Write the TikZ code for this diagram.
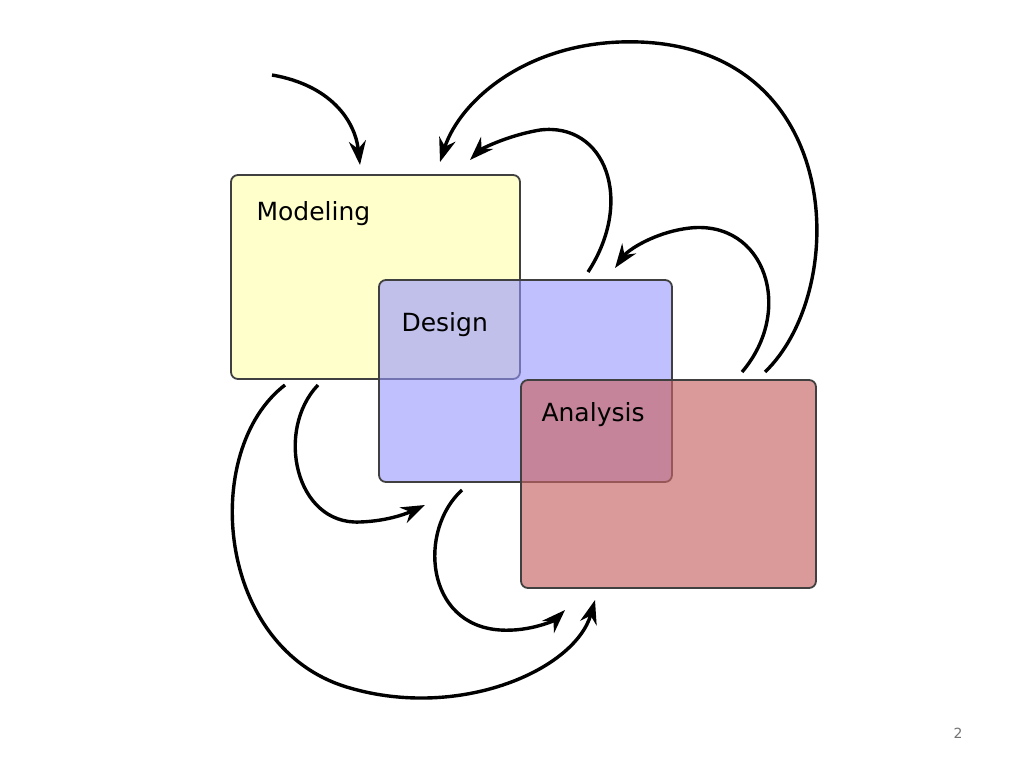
\documentclass[tikz,border=0pt]{standalone}
\usepackage{fontspec}
\setmainfont{DejaVu Sans}
\usetikzlibrary{arrows.meta}
\begin{document}
\begin{tikzpicture}[x=1pt,y=-1pt,
  boxst/.style={draw=black!75,line width=1.8pt,rounded corners=7pt},
  arr/.style={line width=3.4pt,-{Stealth[length=24pt,width=17pt]}},
  lbl/.style={anchor=base west,font=\fontsize{25}{28}\selectfont}]
\useasboundingbox (0,0) rectangle (1024,768);
\fill[white] (0,0) rectangle (1024,768);
\draw[boxst,fill={rgb,255:red,255;green,255;blue,204}] (231,175) rectangle (520,379);
\node[lbl] (m) at (253,220) {Modeling};
\draw[boxst,fill={rgb,255:red,150;green,150;blue,255},fill opacity=0.6] (379,280) rectangle (672,482);
\node[lbl] (d) at (398,331) {Design};
\draw[boxst,fill={rgb,255:red,200;green,100;blue,100},fill opacity=0.65] (521,380) rectangle (816,588);
\node[lbl] (a) at (538,421) {Analysis};
\draw[arr] (272,75) .. controls (330,85) and (355,120) .. (360,165);
\draw[arr] (765,372) .. controls (850,290) and (845,50) .. (640,42) .. controls (530,38) and (460,100) .. (440,162);
\draw[arr] (588,272) .. controls (635,200) and (605,122) .. (540,130) .. controls (505,136) and (480,150) .. (470,160);
\draw[arr] (742,372) .. controls (795,310) and (765,220) .. (690,228) .. controls (655,232) and (628,250) .. (615,268);
\draw[arr] (318,385) .. controls (275,430) and (295,525) .. (360,522) .. controls (390,521) and (410,512) .. (425,505);
\draw[arr] (285,385) .. controls (200,450) and (215,650) .. (350,688) .. controls (460,720) and (575,670) .. (595,600);
\draw[arr] (462,490) .. controls (418,530) and (425,625) .. (500,630) .. controls (530,632) and (555,620) .. (565,610);
\node[text=black!55,font=\fontsize{14}{16}\selectfont] (p) at (958,733) {2};
\end{tikzpicture}
\end{document}
